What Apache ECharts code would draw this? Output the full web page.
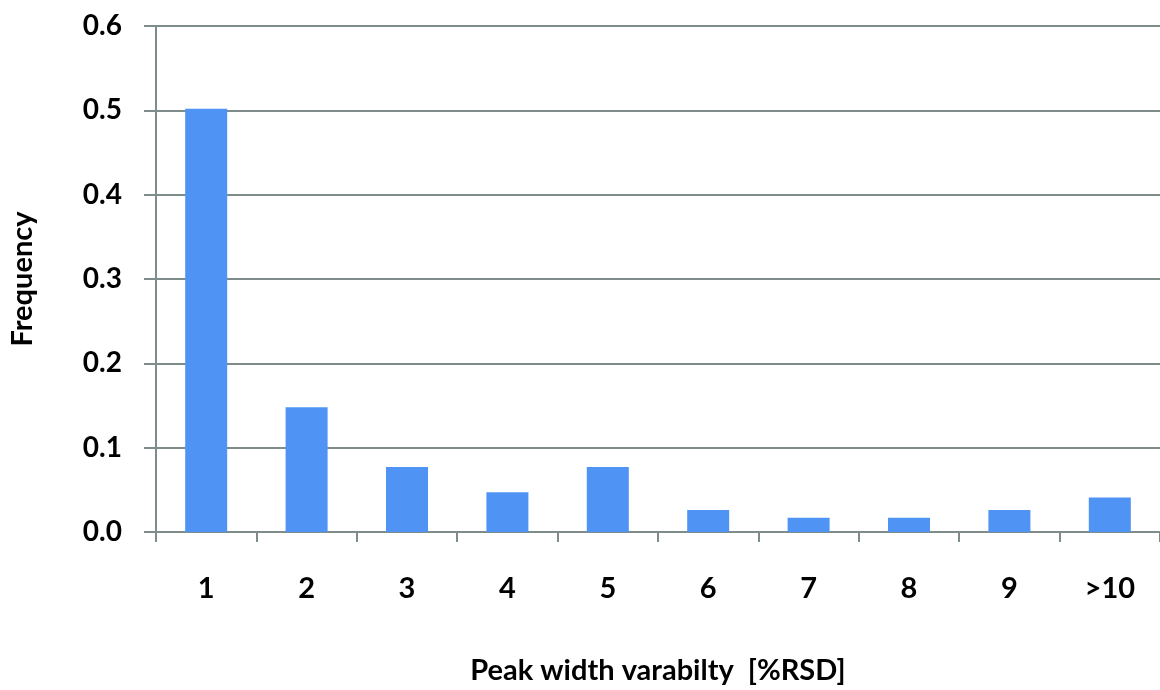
<!DOCTYPE html>
<html>
<head>
<meta charset="utf-8">
<script src="https://cdn.jsdelivr.net/npm/echarts@6/dist/echarts.min.js"></script>
<style>
  html, body { margin: 0; padding: 0; background: #fff; }
  #chart { width: 1160px; height: 690px; }
</style>
</head>
<body>
<div id="chart"></div>
<script>
// Histogram of peak width variability (%RSD bins) as relative frequency
const categories = ['1', '2', '3', '4', '5', '6', '7', '8', '9', '>10'];
const frequency = [0.502, 0.148, 0.077, 0.047, 0.077, 0.026, 0.017, 0.017, 0.026, 0.041];
const yTicks = { min: 0, max: 0.6, interval: 0.1 };

const axisGrey = '#7f8c8c';
const fontFamily = 'Lato, "Open Sans", sans-serif';

const chart = echarts.init(document.getElementById('chart'), null, { renderer: 'canvas' });
chart.setOption({
  animation: false,
  backgroundColor: '#ffffff',
  grid: { left: 144, right: -3, top: 26, bottom: 143, containLabel: false },
  xAxis: {
    type: 'category',
    data: categories,
    boundaryGap: true,
    name: 'Peak width varabilty  [%RSD]',
    nameLocation: 'middle',
    nameGap: 124,
    nameTextStyle: { fontFamily, fontWeight: 'bold', fontSize: 29, color: '#000' },
    axisLine: { lineStyle: { color: axisGrey, width: 2 } },
    axisTick: { show: true, length: 10, lineStyle: { color: axisGrey, width: 2 } },
    axisLabel: { fontFamily, fontWeight: 'bold', fontSize: 29, color: '#000', margin: 42 },
    splitLine: { show: false }
  },
  yAxis: {
    type: 'value',
    min: yTicks.min,
    max: yTicks.max,
    interval: yTicks.interval,
    name: 'Frequency',
    nameLocation: 'middle',
    nameGap: 119,
    nameTextStyle: { fontFamily, fontWeight: 'bold', fontSize: 29, color: '#000' },
    axisLine: { show: true, lineStyle: { color: axisGrey, width: 2 } },
    axisTick: { show: true, length: 12, lineStyle: { color: axisGrey, width: 2 } },
    axisLabel: {
      fontFamily, fontWeight: 'bold', fontSize: 28, color: '#000', margin: 34,
      formatter: v => v.toFixed(1)
    },
    splitLine: { show: true, lineStyle: { color: axisGrey, width: 2 } }
  },
  series: [{
    type: 'bar',
    data: frequency,
    barWidth: 42,
    itemStyle: { color: '#4f94f5' }
  }]
});
</script>
</body>
</html>
